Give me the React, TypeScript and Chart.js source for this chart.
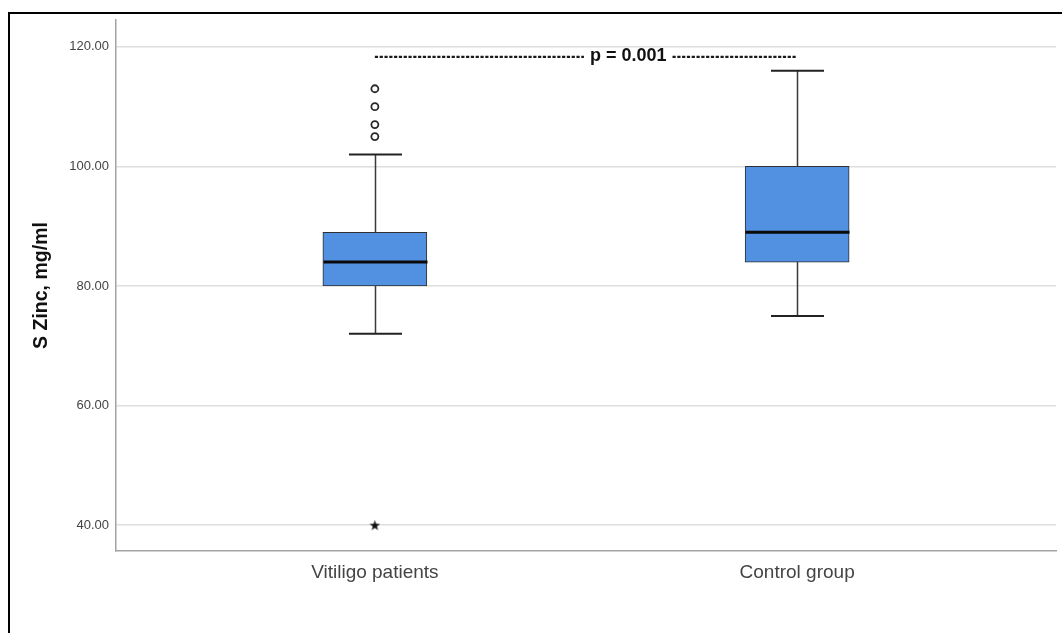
import React, { useEffect, useRef } from 'react';
import { Chart, registerables } from 'chart.js';

Chart.register(...registerables);

// ---- data ----
const groups = ['Vitiligo patients', 'Control group'];
const groupX = [1, 2];
const q1 = [80, 84];
const medians = [84, 89];
const q3 = [89, 100];
const whiskerLow = [72, 75];
const whiskerHigh = [102, 116];
const outliersVitiligo = [113, 110, 107, 105];
const extremesVitiligo = [40];
const yTicks = [40, 60, 80, 100, 120];
const yMin = 35.67;
const yMax = 124.5;
const pLabel = 'p = 0.001';
const pLevel = 118.5;
const pTextAt = 1.6;

const FONT = '"Liberation Sans", Arial, Helvetica, sans-serif';
const BOX_PX = 104;

function makeStar(size: number) {
  const c = document.createElement('canvas');
  c.width = size;
  c.height = size;
  const g = c.getContext('2d')!;
  g.beginPath();
  for (let i = 0; i < 10; i++) {
    const r = i % 2 ? size * 0.2 : size / 2;
    const a = -Math.PI / 2 + (i * Math.PI) / 5;
    const px = size / 2 + r * Math.cos(a);
    const py = size / 2 + 0.5 + r * Math.sin(a);
    if (i === 0) g.moveTo(px, py);
    else g.lineTo(px, py);
  }
  g.closePath();
  g.fillStyle = '#111';
  g.fill();
  return c;
}

const boxExtras = {
  id: 'boxExtras',
  afterDatasetsDraw(chart: any) {
    const { ctx, scales } = chart;
    const xs = scales.x;
    const ys = scales.y;
    ctx.save();
    for (let i = 0; i < groups.length; i++) {
      const cx = Math.round(xs.getPixelForValue(groupX[i])) + 0.5;
      const half = BOX_PX / 2;
      const capHalf = 26.5;
      // whiskers
      ctx.strokeStyle = '#3a3a3a';
      ctx.lineWidth = 1.5;
      ctx.beginPath();
      ctx.moveTo(cx, ys.getPixelForValue(q3[i]));
      ctx.lineTo(cx, ys.getPixelForValue(whiskerHigh[i]));
      ctx.moveTo(cx, ys.getPixelForValue(q1[i]));
      ctx.lineTo(cx, ys.getPixelForValue(whiskerLow[i]));
      ctx.stroke();
      // caps
      ctx.strokeStyle = '#222';
      ctx.lineWidth = 2;
      ctx.beginPath();
      const yh = ys.getPixelForValue(whiskerHigh[i]);
      const yl = ys.getPixelForValue(whiskerLow[i]);
      ctx.moveTo(cx - capHalf, yh);
      ctx.lineTo(cx + capHalf, yh);
      ctx.moveTo(cx - capHalf, yl);
      ctx.lineTo(cx + capHalf, yl);
      ctx.stroke();
      // median
      ctx.strokeStyle = '#0a0a0a';
      ctx.lineWidth = 3;
      ctx.beginPath();
      const ym = ys.getPixelForValue(medians[i]);
      ctx.moveTo(cx - half, ym);
      ctx.lineTo(cx + half, ym);
      ctx.stroke();
    }
    // p-value annotation
    const py = ys.getPixelForValue(pLevel);
    const x1 = xs.getPixelForValue(groupX[0]);
    const x2 = xs.getPixelForValue(groupX[1]);
    const tx = xs.getPixelForValue(pTextAt);
    ctx.font = `bold 18px ${FONT}`;
    ctx.fillStyle = '#111';
    ctx.textAlign = 'center';
    ctx.textBaseline = 'middle';
    ctx.fillText(pLabel, tx, py);
    const tw = ctx.measureText(pLabel).width;
    ctx.strokeStyle = '#1a1a1a';
    ctx.lineWidth = 2.2;
    ctx.setLineDash([3.2, 1.6]);
    ctx.beginPath();
    ctx.moveTo(x1, py + 1);
    ctx.lineTo(tx - tw / 2 - 6, py + 1);
    ctx.moveTo(tx + tw / 2 + 6, py + 1);
    ctx.lineTo(x2, py + 1);
    ctx.stroke();
    ctx.restore();
  },
};

export default function App() {
  const ref = useRef<HTMLCanvasElement>(null);
  useEffect(() => {
    if (!ref.current) return;
    const star = makeStar(11);
    const chart = new Chart(ref.current, {
      type: 'bar',
      data: {
        datasets: [
          {
            type: 'bar',
            data: groupX.map((x, i) => ({ x, y: [q1[i], q3[i]] })) as any,
            backgroundColor: 'rgb(82,144,226)',
            borderColor: '#2f2f2f',
            borderWidth: 1,
            borderSkipped: false,
            barThickness: BOX_PX,
            order: 2,
          } as any,
          {
            type: 'scatter',
            data: outliersVitiligo.map((y) => ({ x: groupX[0], y })),
            pointStyle: 'circle',
            pointRadius: 3.5,
            pointBackgroundColor: '#fff',
            pointBorderColor: '#2a2a2a',
            pointBorderWidth: 1.8,
            order: 1,
          } as any,
          {
            type: 'scatter',
            data: extremesVitiligo.map((y) => ({ x: groupX[0], y })),
            pointStyle: star,
            pointRadius: 5,
            order: 1,
          } as any,
        ],
      },
      options: {
        responsive: false,
        animation: false,
        layout: { padding: { left: 0, right: 2, top: 4, bottom: 0 } },
        plugins: { legend: { display: false }, tooltip: { enabled: false } },
        scales: {
          x: {
            type: 'linear',
            min: 0.387,
            max: 2.613,
            offset: false,
            afterBuildTicks: (s: any) => {
              s.ticks = groupX.map((v) => ({ value: v }));
            },
            afterFit: (s: any) => {
              s.height = 82;
              s.paddingLeft = 0;
              s.paddingRight = 0;
            },
            grid: { display: false, drawTicks: false, offset: false },
            border: { display: true, color: '#a3a3a3', width: 1.5 },
            ticks: {
              padding: 10,
              color: '#444',
              font: { size: 19, family: FONT },
              callback: (v: any) => groups[groupX.indexOf(Number(v))] ?? '',
            },
          },
          y: {
            type: 'linear',
            min: yMin,
            max: yMax,
            afterBuildTicks: (s: any) => {
              s.ticks = yTicks.map((v) => ({ value: v }));
            },
            afterFit: (s: any) => {
              s.width = 106;
              s.paddingTop = 0;
              s.paddingBottom = 0;
            },
            grid: { color: '#dedede', lineWidth: 1.5, drawTicks: false },
            border: { display: true, color: '#a3a3a3', width: 1.5 },
            ticks: {
              padding: 7,
              color: '#444',
              font: { size: 13, family: FONT },
              callback: (v: any) => Number(v).toFixed(2),
            },
            title: {
              display: true,
              text: 'S Zinc, mg/ml',
              color: '#111',
              font: { size: 19.5, weight: 'bold', family: FONT },
              padding: { top: 20, bottom: 0 },
            },
          },
        },
      } as any,
      plugins: [boxExtras],
    });
    return () => chart.destroy();
  }, []);
  return (
    <div
      style={{
        position: 'fixed',
        left: 8,
        top: 12,
        width: 1054,
        height: 621,
        borderLeft: '2px solid #000',
        borderTop: '2px solid #000',
        boxSizing: 'border-box',
        background: '#fff',
      }}
    >
      <canvas ref={ref} width={1052} height={619} style={{ display: 'block', width: 1052, height: 619 }} />
    </div>
  );
}
